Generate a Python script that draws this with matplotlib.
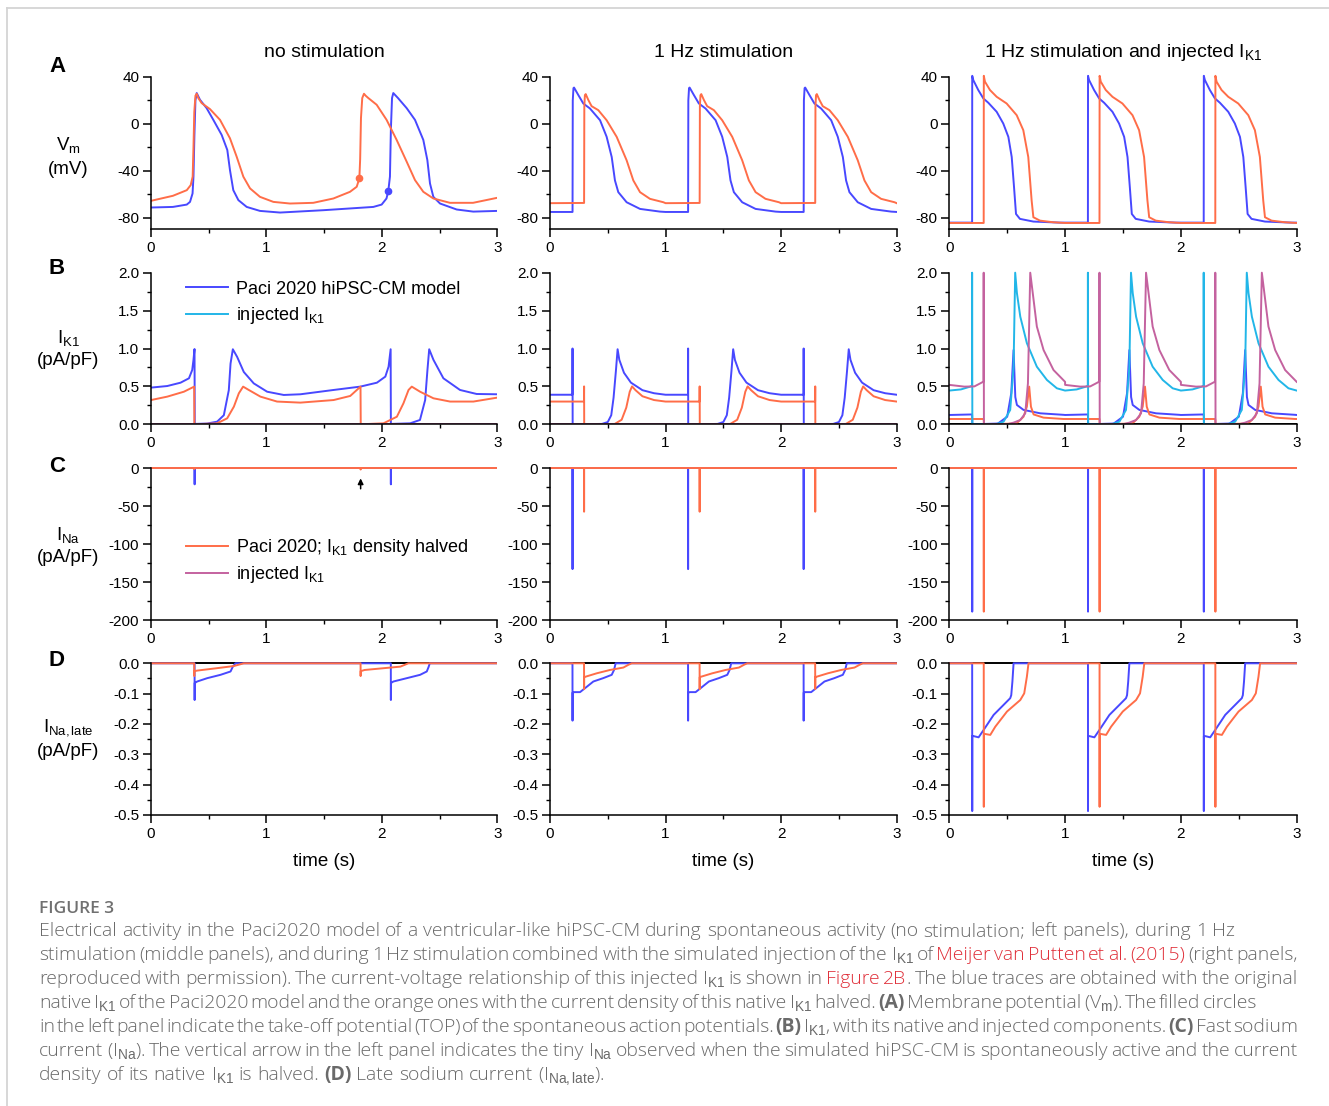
import numpy as np
import matplotlib
matplotlib.use('Agg')
import matplotlib.pyplot as plt
from matplotlib.lines import Line2D
from matplotlib.ticker import FixedLocator, MultipleLocator, FormatStrFormatter

W, H, DPI = 1329, 1106, 100
plt.rcParams['font.family'] = ['Liberation Sans', 'DejaVu Sans']
plt.rcParams['mathtext.fontset'] = 'custom'
plt.rcParams['mathtext.rm'] = 'Liberation Sans'
plt.rcParams['mathtext.it'] = 'Liberation Sans:italic'
plt.rcParams['mathtext.bf'] = 'Liberation Sans:bold'
plt.rcParams['axes.unicode_minus'] = False

BLUE = '#4848ff'
ORANGE = '#ff6d48'
CYAN = '#22b6e8'
MAGENTA = '#c4629f'

# ---------------- data: column 1 (no stimulation) ----------------
A1_BLUE_T = [0, 0.19, 0.31, 0.338, 0.36, 0.368, 0.376, 0.385, 0.396, 0.424, 0.482, 0.54, 0.612, 0.661,
             0.684, 0.713, 0.757, 0.829, 0.944, 1.118, 1.493, 1.926, 1.998, 2.04, 2.056, 2.07, 2.078,
             2.088, 2.099, 2.14, 2.215, 2.287, 2.359, 2.394, 2.417, 2.446, 2.504, 2.648, 2.792, 3.0]
A1_BLUE_V = [-71.4, -70.9, -68.9, -66.6, -59.4, -45, -10, 20, 26.3, 20.6, 13.4, 3.4, -9.4, -22.3,
             -39.4, -56.6, -65.1, -70.9, -74.3, -75.7, -73.7, -70.9, -68.9, -63.7, -57.1, -45, -5,
             22, 26.3, 22, 13.4, 3.4, -13.7, -30.9, -50.9, -62.3, -68, -73.1, -74.9, -74.3]
A1_ORANGE_T = [0, 0.19, 0.31, 0.344, 0.361, 0.368, 0.375, 0.385, 0.396, 0.41, 0.439, 0.511, 0.598,
               0.684, 0.742, 0.8, 0.858, 0.944, 1.06, 1.204, 1.406, 1.58, 1.724, 1.782, 1.805, 1.812,
               1.819, 1.83, 1.845, 1.86, 1.883, 1.955, 2.041, 2.128, 2.215, 2.287, 2.359, 2.446,
               2.59, 2.79, 3.0]
A1_ORANGE_V = [-65.7, -61.4, -56.6, -52.3, -45, -20, 10, 24, 25.7, 22, 17.7, 12.6, 3.4, -12.3, -28,
               -45.1, -55.1, -62.3, -66.6, -68, -67.4, -63.7, -58, -53.7, -46.6, -30, 5, 22, 25.7,
               24, 22, 16.3, 3.4, -13.7, -32.3, -48, -58, -63.7, -67.4, -67.4, -63.1]
TOP_T = [1.805, 2.056]          # orange, blue take-off potentials
TOP_V = [-46.6, -57.1]

B1_BLUE_T = [0, 0.141, 0.256, 0.329, 0.357, 0.368, 0.377, 0.379, 0.487, 0.573, 0.631, 0.674, 0.689,
             0.709, 0.746, 0.804, 0.89, 1.006, 1.15, 1.294, 1.582, 1.813, 1.957, 2.03, 2.058, 2.076,
             2.078, 2.245, 2.33, 2.375, 2.395, 2.41, 2.447, 2.533, 2.677, 2.821, 3.0]
B1_BLUE_V = [0.484, 0.505, 0.549, 0.607, 0.716, 0.85, 0.993, 0.005, 0.01, 0.035, 0.12, 0.45, 0.8,
             0.99, 0.89, 0.69, 0.54, 0.43, 0.387, 0.396, 0.453, 0.497, 0.549, 0.629, 0.76, 0.99,
             0.005, 0.013, 0.057, 0.32, 0.72, 0.99, 0.85, 0.607, 0.453, 0.4, 0.396]
B1_ORANGE_T = [0, 0.141, 0.285, 0.374, 0.376, 0.573, 0.66, 0.718, 0.761, 0.798, 0.847, 0.948, 1.092,
               1.294, 1.582, 1.726, 1.815, 1.817, 2.014, 2.13, 2.187, 2.231, 2.259, 2.331, 2.447,
               2.591, 2.793, 3.0]
B1_ORANGE_V = [0.32, 0.365, 0.43, 0.497, 0.0, 0.013, 0.079, 0.233, 0.409, 0.497, 0.453, 0.365, 0.3,
               0.286, 0.32, 0.374, 0.497, 0.0, 0.013, 0.1, 0.277, 0.453, 0.497, 0.43, 0.343, 0.3,
               0.3, 0.352]
ZERO_T = [0, 3]
ZERO_V = [0, 0]

C1_BLUE_T = [0, 0.3775, 0.378, 0.3785, 2.0775, 2.078, 2.0785, 3.0]
C1_BLUE_V = [0, 0, -21.5, 0, 0, -21.5, 0, 0]
C1_ORANGE_T = [0, 0.3745, 0.375, 0.3755, 1.8155, 1.816, 1.8165, 3.0]
C1_ORANGE_V = [0, 0, -1.5, 0, 0, -2.0, 0, 0]
ARROW_T = 1.816
ARROW_FROM, ARROW_TO = -31, -10

D1_BLUE_T = [0, 0.3775, 0.378, 0.3785, 0.4, 0.487, 0.602, 0.689, 0.709, 0.732, 2.0775, 2.078,
             2.0785, 2.1, 2.216, 2.331, 2.389, 2.405, 2.415, 3.0]
D1_BLUE_V = [0, 0, -0.121, -0.065, -0.06, -0.049, -0.038, -0.027, -0.011, 0, 0, -0.121, -0.065,
             -0.06, -0.049, -0.038, -0.027, -0.012, 0, 0]
D1_ORANGE_T = [0, 0.3745, 0.375, 0.3755, 0.4, 0.573, 0.718, 0.804, 1.8155, 1.816, 1.8165, 1.85,
               2.16, 2.23, 3.0]
D1_ORANGE_V = [0, 0, -0.042, -0.026, -0.024, -0.016, -0.009, 0, 0, -0.042, -0.026, -0.022, -0.011,
               0, 0]

# ---------------- data: 1 Hz beats (one cycle, repeated at each beat) ----------------
BEAT_OFFSETS = [0, 1, 2]

A2_BLUE_T = [0, 0.195, 0.197, 0.203, 0.208, 0.245, 0.288, 0.346, 0.433, 0.49, 0.534, 0.562, 0.591,
             0.663, 0.779, 0.952, 1.0]
A2_BLUE_V = [-75.2, -75.2, 20, 30.5, 31, 24.6, 17.4, 13.1, 3.1, -11, -28.3, -48.3, -58.3, -66.9,
             -72.6, -74.9, -75.2]
A2_ORANGE_T = [0, 0.295, 0.297, 0.302, 0.309, 0.332, 0.36, 0.418, 0.49, 0.577, 0.663, 0.721, 0.779,
               0.865, 0.981, 1.0]
A2_ORANGE_V = [-67.7, -67.5, 15, 24.5, 25.4, 20.3, 15.1, 11.7, 3.1, -11.1, -31.1, -48.3, -58.3, -64,
               -66.9, -67.7]

B2_BLUE_T = [0, 0.194, 0.195, 0.196, 0.45, 0.5, 0.53, 0.55, 0.57, 0.585, 0.6, 0.64, 0.7, 0.8, 0.9, 1.0]
B2_BLUE_V = [0.39, 0.39, 1.0, 0.0, 0.005, 0.03, 0.12, 0.35, 0.7, 0.99, 0.85, 0.68, 0.55, 0.45, 0.41, 0.39]
B2_ORANGE_T = [0, 0.294, 0.295, 0.296, 0.56, 0.62, 0.66, 0.69, 0.71, 0.74, 0.8, 0.9, 1.0]
B2_ORANGE_V = [0.3, 0.3, 0.5, 0.0, 0.005, 0.06, 0.22, 0.43, 0.5, 0.45, 0.37, 0.32, 0.3]

C2_BLUE_T = [0, 0.1945, 0.195, 0.1955, 1.0]
C2_BLUE_V = [0, 0, -133, 0, 0]
C2_ORANGE_T = [0, 0.2945, 0.295, 0.2955, 1.0]
C2_ORANGE_V = [0, 0, -57.5, 0, 0]

D2_BLUE_T = [0, 0.1945, 0.195, 0.1955, 0.21, 0.26, 0.303, 0.375, 0.46, 0.534, 0.554, 0.568, 1.0]
D2_BLUE_V = [0, 0, -0.189, -0.097, -0.095, -0.095, -0.082, -0.06, -0.049, -0.038, -0.022, 0, 0]
D2_ORANGE_T = [0, 0.2945, 0.295, 0.2955, 0.309, 0.404, 0.519, 0.635, 0.678, 0.707, 1.0]
D2_ORANGE_V = [0, 0, -0.085, -0.046, -0.044, -0.033, -0.022, -0.014, -0.005, 0, 0]

A3_BLUE_T = [0, 0.197, 0.198, 0.207, 0.25, 0.294, 0.337, 0.409, 0.466, 0.51, 0.539, 0.559, 0.576,
             0.61, 0.726, 0.956, 1.0]
A3_BLUE_V = [-84.3, -84.3, 41, 37.4, 28.9, 21.7, 18, 10.3, 0.3, -11.1, -28.3, -54, -76.9, -81.1,
             -83.4, -84.3, -84.3]
A3_ORANGE_T = [0, 0.297, 0.298, 0.308, 0.351, 0.409, 0.495, 0.582, 0.639, 0.682, 0.711, 0.726,
               0.783, 0.898, 1.0]
A3_ORANGE_V = [-84.6, -84.6, 41, 36, 28.9, 23.1, 17.4, 7.4, -5.4, -28.3, -65.4, -79.7, -82.6, -84,
               -84.6]

B3_BLUE_T = [0, 0.197, 0.199, 0.42, 0.5, 0.535, 0.555, 0.57, 0.584, 0.641, 0.785, 0.987, 1.0]
B3_BLUE_V = [0.123, 0.13, 0.0, 0.01, 0.1, 0.41, 0.98, 0.36, 0.255, 0.19, 0.145, 0.125, 0.123]
B3_ORANGE_T = [0, 0.297, 0.299, 0.58, 0.641, 0.67, 0.69, 0.705, 0.728, 0.814, 0.987, 1.0]
B3_ORANGE_V = [0.07, 0.07, 0.0, 0.01, 0.1, 0.233, 0.497, 0.233, 0.13, 0.088, 0.07, 0.07]
B3_CYAN_T = [0, 0.1, 0.181, 0.196, 0.197, 0.199, 0.4, 0.469, 0.526, 0.555, 0.569, 0.584, 0.613,
             0.67, 0.756, 0.843, 0.929, 1.0]
B3_CYAN_V = [0.445, 0.46, 0.497, 0.51, 2.0, 0.0, 0.0, 0.035, 0.19, 0.76, 2.0, 1.73, 1.42, 1.07,
             0.76, 0.585, 0.475, 0.445]
B3_MAGENTA_T = [0, 0.13, 0.217, 0.267, 0.295, 0.297, 0.299, 0.5, 0.555, 0.613, 0.656, 0.679, 0.699,
                0.728, 0.756, 0.814, 0.9, 1.0]
B3_MAGENTA_V = [0.52, 0.497, 0.5, 0.54, 0.563, 2.0, 0.0, 0.0, 0.022, 0.057, 0.145, 0.54, 2.0, 1.64,
                1.29, 0.98, 0.716, 0.56]

C3_BLUE_T = [0, 0.1975, 0.198, 0.1985, 1.0]
C3_BLUE_V = [0, 0, -189, 0, 0]
C3_ORANGE_T = [0, 0.2975, 0.298, 0.2985, 1.0]
C3_ORANGE_V = [0, 0, -189, 0, 0]

D3_BLUE_T = [0, 0.1975, 0.198, 0.1985, 0.21, 0.253, 0.296, 0.383, 0.469, 0.526, 0.535, 0.545, 0.555, 1.0]
D3_BLUE_V = [0, 0, -0.487, -0.24, -0.24, -0.244, -0.22, -0.17, -0.137, -0.115, -0.105, -0.06, 0, 0]
D3_ORANGE_T = [0, 0.2975, 0.298, 0.2985, 0.31, 0.354, 0.397, 0.498, 0.613, 0.647, 0.67, 0.684, 1.0]
D3_ORANGE_V = [0, 0, -0.473, -0.233, -0.233, -0.236, -0.209, -0.159, -0.121, -0.099, -0.044, 0, 0]

# ---------------- labels ----------------
COL_TITLES = ['no stimulation', '1 Hz stimulation', r'1 Hz stimulation and injected I$_{\mathrm{K1}}$']
ROW_LETTERS = ['A', 'B', 'C', 'D']
ROW_YLABEL1 = [r'V$_{\mathrm{m}}$', r'I$_{\mathrm{K1}}$', r'I$_{\mathrm{Na}}$', r'I$_{\mathrm{Na,late}}$']
ROW_YLABEL2 = ['(mV)', '(pA/pF)', '(pA/pF)', '(pA/pF)']
ROW_YLIM = [(-90, 40), (0, 2.0), (-200, 0), (-0.5, 0.0)]
ROW_YTICKS = [[-80, -40, 0, 40], [0, 0.5, 1.0, 1.5, 2.0], [-200, -150, -100, -50, 0],
              [-0.5, -0.4, -0.3, -0.2, -0.1, 0.0]]
ROW_YFMT = ['%d', '%.1f', '%d', '%.1f']
ROW_YMINOR = [20, 0.25, 25, 0.05]
XTICKS = [0, 1, 2, 3]
LEGEND_B = ['Paci 2020 hiPSC-CM model', r'injected I$_{\mathrm{K1}}$']
LEGEND_C = [r'Paci 2020; I$_{\mathrm{K1}}$ density halved', r'injected I$_{\mathrm{K1}}$']

# ---------------- layout (pixels) ----------------
COL_PX = [(151.0, 497.3), (550.0, 896.7), (949.3, 1296.7)]
ROW_PX = [(77.0, 229.3), (272.7, 424.3), (468.0, 620.0), (663.3, 815.0)]


def tile(t, v):
    T = np.concatenate([np.asarray(t, float) + o for o in BEAT_OFFSETS])
    V = np.concatenate([np.asarray(v, float) for _ in BEAT_OFFSETS])
    return T, V


fig = plt.figure(figsize=(W / DPI, H / DPI), dpi=DPI)
fig.patch.set_facecolor('white')

axes = {}
PAD = 3.0
for r in range(4):
    for c in range(3):
        x0, x1 = COL_PX[c]
        yt, yb = ROW_PX[r]
        lo, hi = ROW_YLIM[r]
        ext = PAD * (hi - lo) / (yb - yt)
        ax = fig.add_axes([x0 / W, 1 - yb / H, (x1 - x0) / W, (yb - yt + PAD) / H])
        ax.set_xlim(0, 3)
        ax.set_ylim(lo, hi + ext)
        ax.spines['top'].set_visible(False)
        ax.spines['right'].set_visible(False)
        ax.spines['left'].set_bounds(lo, hi)
        for s in ('left', 'bottom'):
            ax.spines[s].set_linewidth(1.1)
        ax.xaxis.set_major_locator(FixedLocator(XTICKS))
        ax.xaxis.set_minor_locator(MultipleLocator(0.5))
        ax.xaxis.set_major_formatter(FormatStrFormatter('%d'))
        ax.yaxis.set_major_locator(FixedLocator(ROW_YTICKS[r]))
        ax.yaxis.set_minor_locator(MultipleLocator(ROW_YMINOR[r]))
        ax.yaxis.set_major_formatter(FormatStrFormatter(ROW_YFMT[r]))
        ax.tick_params(which='major', direction='out', length=5.5, width=1.1, labelsize=11, pad=3)
        ax.tick_params(which='minor', direction='out', length=3, width=1.0)
        ax.set_facecolor('none')
        axes[(r, c)] = ax

LW = 1.4
# ---- column 1
ax = axes[(0, 0)]
ax.plot(A1_BLUE_T, A1_BLUE_V, color=BLUE, lw=LW)
ax.plot(A1_ORANGE_T, A1_ORANGE_V, color=ORANGE, lw=LW)
ax.plot(TOP_T[0], TOP_V[0], 'o', color=ORANGE, ms=4.5)
ax.plot(TOP_T[1], TOP_V[1], 'o', color=BLUE, ms=4.5)

ax = axes[(1, 0)]
ax.plot(B1_BLUE_T, B1_BLUE_V, color=BLUE, lw=LW)
ax.plot(B1_ORANGE_T, B1_ORANGE_V, color=ORANGE, lw=LW)
ax.plot(ZERO_T, ZERO_V, color=CYAN, lw=LW)
ax.plot(ZERO_T, ZERO_V, color=MAGENTA, lw=LW)

ax = axes[(2, 0)]
ax.plot(C1_BLUE_T, C1_BLUE_V, color=BLUE, lw=LW)
ax.plot(C1_ORANGE_T, C1_ORANGE_V, color=ORANGE, lw=LW)
ax.annotate('', xy=(ARROW_T, ARROW_TO), xytext=(ARROW_T, ARROW_FROM),
            arrowprops=dict(arrowstyle='-|>', color='black', lw=1.1, mutation_scale=8))

ax = axes[(3, 0)]
ax.plot(ZERO_T, ZERO_V, color='black', lw=LW)
ax.plot(D1_BLUE_T, D1_BLUE_V, color=BLUE, lw=LW)
ax.plot(D1_ORANGE_T, D1_ORANGE_V, color=ORANGE, lw=LW)

# ---- column 2
axes[(0, 1)].plot(*tile(A2_BLUE_T, A2_BLUE_V), color=BLUE, lw=LW)
axes[(0, 1)].plot(*tile(A2_ORANGE_T, A2_ORANGE_V), color=ORANGE, lw=LW)
axes[(1, 1)].plot(*tile(B2_BLUE_T, B2_BLUE_V), color=BLUE, lw=LW)
axes[(1, 1)].plot(*tile(B2_ORANGE_T, B2_ORANGE_V), color=ORANGE, lw=LW)
axes[(1, 1)].plot(ZERO_T, ZERO_V, color=CYAN, lw=LW)
axes[(1, 1)].plot(ZERO_T, ZERO_V, color=MAGENTA, lw=LW)
axes[(2, 1)].plot(*tile(C2_BLUE_T, C2_BLUE_V), color=BLUE, lw=LW)
axes[(2, 1)].plot(*tile(C2_ORANGE_T, C2_ORANGE_V), color=ORANGE, lw=LW)
axes[(3, 1)].plot(ZERO_T, ZERO_V, color='black', lw=LW)
axes[(3, 1)].plot(*tile(D2_BLUE_T, D2_BLUE_V), color=BLUE, lw=LW)
axes[(3, 1)].plot(*tile(D2_ORANGE_T, D2_ORANGE_V), color=ORANGE, lw=LW)

# ---- column 3
axes[(0, 2)].plot(*tile(A3_BLUE_T, A3_BLUE_V), color=BLUE, lw=LW)
axes[(0, 2)].plot(*tile(A3_ORANGE_T, A3_ORANGE_V), color=ORANGE, lw=LW)
axes[(1, 2)].plot(ZERO_T, ZERO_V, color='black', lw=LW)
axes[(1, 2)].plot(*tile(B3_BLUE_T, B3_BLUE_V), color=BLUE, lw=LW)
axes[(1, 2)].plot(*tile(B3_ORANGE_T, B3_ORANGE_V), color=ORANGE, lw=LW)
axes[(1, 2)].plot(*tile(B3_CYAN_T, B3_CYAN_V), color=CYAN, lw=LW)
axes[(1, 2)].plot(*tile(B3_MAGENTA_T, B3_MAGENTA_V), color=MAGENTA, lw=LW)
axes[(2, 2)].plot(*tile(C3_BLUE_T, C3_BLUE_V), color=BLUE, lw=LW)
axes[(2, 2)].plot(*tile(C3_ORANGE_T, C3_ORANGE_V), color=ORANGE, lw=LW)
axes[(3, 2)].plot(ZERO_T, ZERO_V, color='black', lw=LW)
axes[(3, 2)].plot(*tile(D3_BLUE_T, D3_BLUE_V), color=BLUE, lw=LW)
axes[(3, 2)].plot(*tile(D3_ORANGE_T, D3_ORANGE_V), color=ORANGE, lw=LW)


def ftext(x, y, s, **kw):
    return fig.text(x / W, 1 - y / H, s, **kw)


# titles
for c, t in enumerate(COL_TITLES):
    cx = (COL_PX[c][0] + COL_PX[c][1]) / 2 - 0
    ftext(cx, 57, t, ha='center', va='baseline', fontsize=14)
    ftext(cx, 866, 'time (s)', ha='center', va='baseline', fontsize=13.5)

# row letters and y labels
LETTER_Y = [67, 268, 466, 661]
YL1_BASE = [150, 343, 540, 731]
YL2_BASE = [174, 365, 562, 756]
for r in range(4):
    ftext(57, LETTER_Y[r], ROW_LETTERS[r], ha='center', va='center', fontsize=16, weight='bold')
    ftext(68, YL1_BASE[r], ROW_YLABEL1[r], ha='center', va='baseline', fontsize=13.5)
    ftext(68, YL2_BASE[r], ROW_YLABEL2[r], ha='center', va='baseline', fontsize=13.5)

# legends
for i, (lab, col) in enumerate(zip(LEGEND_B, [BLUE, CYAN])):
    y = 287 + 27 * i
    fig.add_artist(Line2D([186 / W, 228 / W], [1 - y / H] * 2, color=col, lw=LW))
    ftext(236, y + 6.5, lab, ha='left', va='baseline', fontsize=13)
for i, (lab, col) in enumerate(zip(LEGEND_C, [ORANGE, MAGENTA])):
    y = 545.5 + 27 * i
    fig.add_artist(Line2D([186 / W, 228 / W], [1 - y / H] * 2, color=col, lw=LW))
    ftext(236, y + 6.5, lab, ha='left', va='baseline', fontsize=13)

# card border
fig.add_artist(Line2D([7 / W, 1.0], [1 - 7.5 / H] * 2, color='#d4d4d4', lw=1.3))
fig.add_artist(Line2D([7 / W, 7 / W], [0, 1 - 7.5 / H], color='#d4d4d4', lw=1.3))

# ---------------- caption ----------------
CAP_FONT = ['Open Sans', 'DejaVu Sans']
CAP_WEIGHT = 'light'
CAP_GRAY = '#6a6a6a'
CAP_RED = '#e0303a'
K1 = r'I$_{\mathrm{K1}}$'
NA = r'I$_{\mathrm{Na}}$'
CAPTION = [
    ([('Electrical activity in the Paci2020 model of a ventricular-like hiPSC-CM during spontaneous '
       'activity (no stimulation; left panels), during 1 Hz', 'n')], None),
    ([('stimulation (middle panels), and during 1 Hz stimulation combined with the simulated injection '
       'of the ' + K1 + ' of ', 'n'), ('Meijer van Putten et al. (2015)', 'r'), (' (right panels,', 'n')], 1298),
    ([('reproduced with permission). The current-voltage relationship of this injected ' + K1 +
       ' is shown in ', 'n'), ('Figure 2B', 'r'), ('. The blue traces are obtained with the original', 'n')], 1298),
    ([('native ' + K1 + ' of the Paci2020 model and the orange ones with the current density of this native '
       + K1 + ' halved. ', 'n'), ('(A)', 'b'), (r' Membrane potential (V$_{\mathrm{m}}$). The filled circles', 'n')], 1257),
    ([('in the left panel indicate the take-off potential (TOP) of the spontaneous action potentials. ', 'n'),
      ('(B)', 'b'), (' ' + K1 + ', with its native and injected components. ', 'n'), ('(C)', 'b'),
      (' Fast sodium', 'n')], 1298),
    ([('current (' + NA + '). The vertical arrow in the left panel indicates the tiny ' + NA +
       ' observed when the simulated hiPSC-CM is spontaneously active and the current', 'n')], 1298),
    ([('density of its native ' + K1 + ' is halved. ', 'n'), ('(D)', 'b'),
      (r' Late sodium current (I$_{\mathrm{Na,late}}$).', 'n')], None),
]
CAP_X0 = 39
CAP_LINE1_END = 1233
CAP_Y0 = 936
CAP_DY = 24

renderer = fig.canvas.get_renderer()

# fit caption font size so that the first line spans its measured width
_probe = ftext(0, -200, CAPTION[0][0][0][0], fontsize=10, family=CAP_FONT, weight=CAP_WEIGHT)
CAP_SIZE = 10 * (CAP_LINE1_END - CAP_X0) / _probe.get_window_extent(renderer).width
_probe.remove()


def cap_text(x, y, s, style):
    kw = dict(fontsize=CAP_SIZE, family=CAP_FONT, color=CAP_GRAY, va='baseline', ha='left',
              weight=CAP_WEIGHT)
    if style == 'b':
        kw['weight'] = 'bold'
    if style == 'r':
        kw['color'] = CAP_RED
    return ftext(x, y, s, **kw)


tmp1 = cap_text(0, -100, 'x x', 'n')
tmp2 = cap_text(0, -100, 'xx', 'n')
SPACE = tmp1.get_window_extent(renderer).width - tmp2.get_window_extent(renderer).width
tmp1.remove()
tmp2.remove()


def rich_line(x0, y, segs, end):
    words = [[]]
    for text, style in segs:
        parts = text.split(' ')
        for i, p in enumerate(parts):
            if i > 0:
                words.append([])
            if p:
                words[-1].append((p, style))
    words = [w for w in words if w]
    items = []
    total = 0
    for w in words:
        pieces = []
        for p, st in w:
            t = cap_text(0, y, p, st)
            wd = t.get_window_extent(renderer).width
            pieces.append((t, wd))
            total += wd
        items.append(pieces)
    gap = SPACE if end is None else (end - x0 - total) / max(1, len(words) - 1)
    x = x0
    for pieces in items:
        for t, wd in pieces:
            t.set_x(x / W)
            x += wd
        x += gap


ftext(39, 913, 'FIGURE 3', family=CAP_FONT, fontsize=12.5, weight='semibold', color='#707070',
      ha='left', va='baseline')
for i, (segs, end) in enumerate(CAPTION):
    rich_line(CAP_X0, CAP_Y0 + i * CAP_DY, segs, end)

fig.savefig('out.png', dpi=DPI, facecolor='white')
